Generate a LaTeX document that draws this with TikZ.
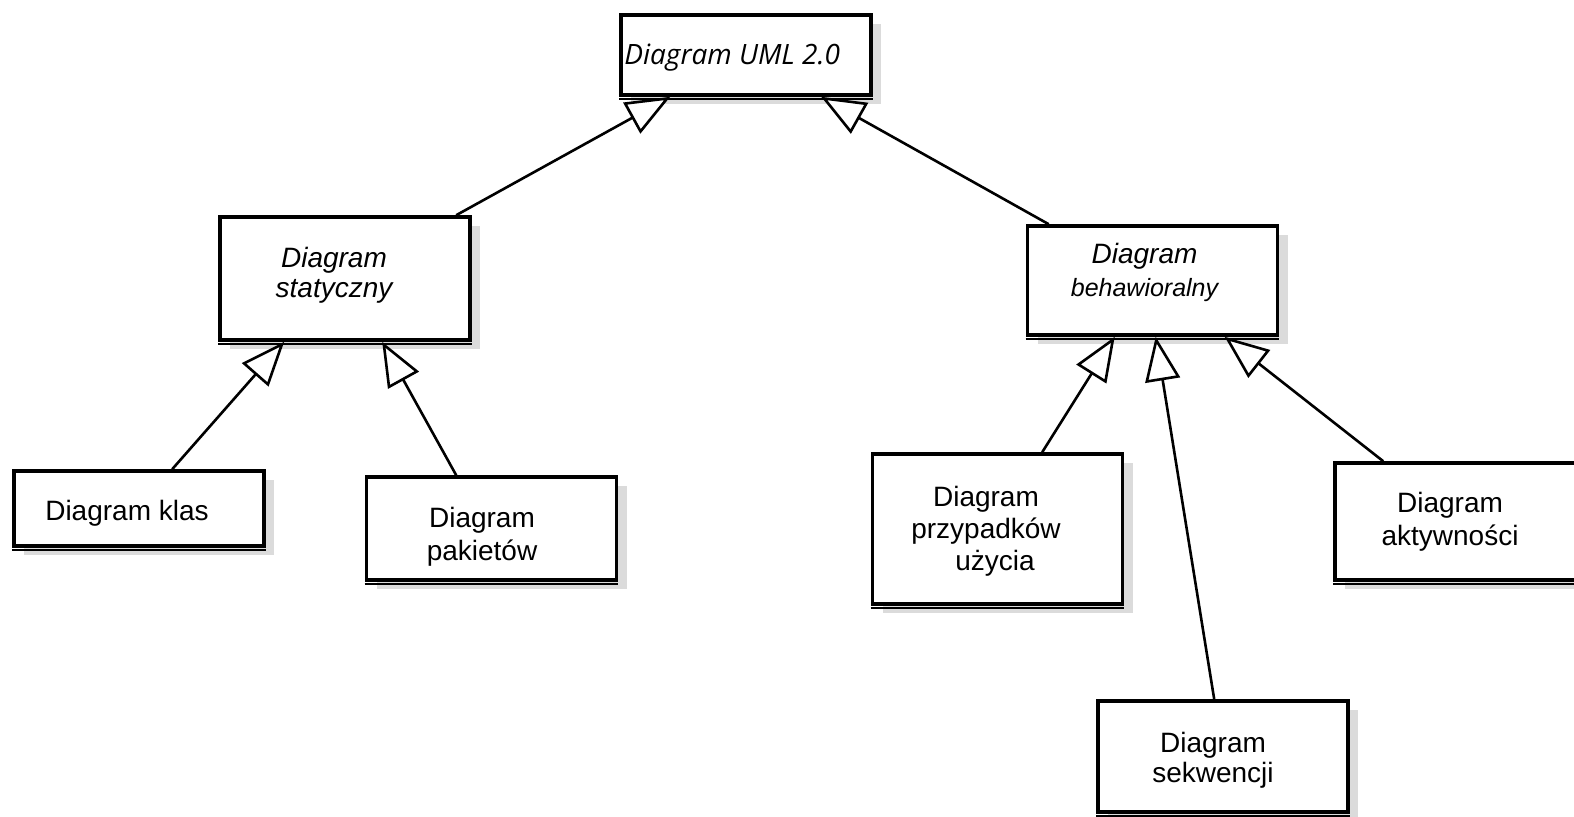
\documentclass[tikz,border=0pt]{standalone}
\usepackage{fontspec}
\setmainfont{Liberation Sans}
\newfontfamily\umlfont{Open Sans}
\usetikzlibrary{arrows.meta,shadows,calc}
\begin{document}
\begin{tikzpicture}[x=0.5pt,y=-0.5pt,
  box/.style={draw, line width=1.8pt, fill=white, rectangle, inner sep=0pt,
    minimum width=125pt,
    drop shadow={shadow xshift=5pt, shadow yshift=-4.5pt, fill=black!14, opacity=1}},
  lbl/.style={align=center, inner sep=0pt, anchor=base,
    font=\fontsize{14}{16}\selectfont},
  gen/.style={line width=1.3pt,
    -{Triangle[length=22pt, width=17.5pt, fill=white, line width=1.3pt]}},
  lowedge/.style={line width=1.2pt}
]
\useasboundingbox (0,0) rectangle (1574,816);
\clip (0,0) rectangle (1574,816);

% boxes
\node[box, minimum height=40pt]   (top)  at (746,55)    {};
\node[box, minimum height=61.5pt] (stat) at (345,278.5) {};
\node[box, minimum height=54.5pt] (beh)  at (1152.5,280.5) {};
\node[box, minimum height=37.5pt] (klas) at (139,508.5) {};
\node[box, minimum height=51.5pt] (pak)  at (491.5,528.5) {};
\node[box, minimum height=75pt]   (prz)  at (997.5,529) {};
\node[box, minimum height=58.5pt] (akt)  at (1460,521.5) {};
\node[box, minimum height=55.5pt] (sek)  at (1223,756.5) {};

% thicker lower edges
\foreach \n in {top,stat,beh,klas,pak,prz,akt,sek}
  \draw[lowedge] ([yshift=-1.2pt]\n.south west) -- ([yshift=-1.2pt]\n.south east);

% labels (the base anchor sits on the last line)
\node[lbl, anchor=base west, font=\umlfont\itshape\fontsize{14}{16}\selectfont]
  (topT) at (624,64) {Diagram UML 2.0};
\node[lbl, font=\itshape\fontsize{14}{15}\selectfont] (statT) at (334,297) {Diagram\\statyczny};
\node[lbl, font=\itshape\fontsize{14}{16.5}\selectfont] (behT) at (1144.5,296)
  {Diagram\\{\fontsize{12.5}{15}\selectfont behawioralny}};
\node[lbl] (klasT) at (127,520) {Diagram klas};
\node[lbl, font=\fontsize{14}{16.5}\selectfont] (pakT) at (482,560) {Diagram\\pakietów};
\node[lbl, font=\fontsize{14}{16}\selectfont] (przT) at (986,570)
  {Diagram\\przypadków\hspace*{3.5pt}\\\hspace*{9pt}użycia};
\node[lbl, font=\fontsize{14}{16.5}\selectfont] (aktT) at (1450,545) {Diagram\\aktywności};
\node[lbl, font=\fontsize{14}{15}\selectfont] (sekT) at (1213,782) {Diagram\\sekwencji};

% generalizations
\draw[gen] ($(stat.north west)+(238,0)$)  -- ($(top.south west)+(51,0)$);
\draw[gen] ($(beh.north west)+(23,0)$)    -- ($(top.south west)+(202,0)$);
\draw[gen] ($(klas.north west)+(160,0)$)  -- ($(stat.south west)+(66,0)$);
\draw[gen] ($(pak.north west)+(91.5,0)$)  -- ($(stat.south west)+(164,0)$);
\draw[gen] ($(prz.north west)+(171.5,0)$) -- ($(beh.south west)+(89,0)$);
\draw[gen] ($(sek.north west)+(118,0)$)   -- ($(beh.south west)+(130,0)$);
\draw[gen] ($(akt.north west)+(50,0)$)    -- ($(beh.south west)+(199,0)$);
\end{tikzpicture}
\end{document}
